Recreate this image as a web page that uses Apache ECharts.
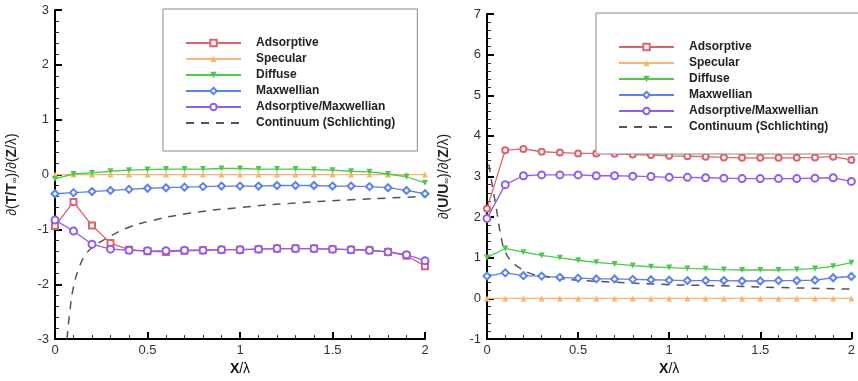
<!DOCTYPE html>
<html>
<head>
<meta charset="utf-8">
<script src="https://cdn.jsdelivr.net/npm/echarts@6/dist/echarts.min.js"></script>
<style>
  html, body { margin: 0; padding: 0; background: #fff; }
  #chart { width: 858px; height: 381px; }
</style>
</head>
<body>
<div id="chart"></div>
<script>
// x positions (X/lambda) shared by all sampled curves
const xPos = [0, 0.1, 0.2, 0.3, 0.4, 0.5, 0.6, 0.7, 0.8, 0.9, 1.0,
              1.1, 1.2, 1.3, 1.4, 1.5, 1.6, 1.7, 1.8, 1.9, 2.0]

const seriesNames = ['Adsorptive', 'Specular', 'Diffuse', 'Maxwellian',
                     'Adsorptive/Maxwellian', 'Continuum (Schlichting)']

// left panel: d(T/Tinf)/d(Z/lambda)
const tAdsorptive = [-0.94, -0.50, -0.93, -1.25, -1.37, -1.40, -1.41, -1.39, -1.38, -1.37, -1.37,
                     -1.36, -1.35, -1.35, -1.35, -1.36, -1.37, -1.38, -1.41, -1.48, -1.67]
const tSpecular   = [0, 0, 0, 0, 0, 0, 0, 0, 0, 0, 0, 0, 0, 0, 0, 0, 0, 0, 0, 0, 0]
const tDiffuse    = [-0.08, 0.01, 0.03, 0.06, 0.08, 0.09, 0.10, 0.10, 0.10, 0.11, 0.11,
                     0.10, 0.10, 0.10, 0.09, 0.08, 0.06, 0.05, 0.01, -0.04, -0.15]
const tMaxwellian = [-0.35, -0.33, -0.31, -0.29, -0.27, -0.25, -0.24, -0.23, -0.22, -0.21, -0.21,
                     -0.21, -0.20, -0.20, -0.20, -0.21, -0.21, -0.22, -0.24, -0.29, -0.35]
const tAdsMax     = [-0.83, -1.03, -1.27, -1.36, -1.38, -1.39, -1.39, -1.38, -1.38, -1.37, -1.37,
                     -1.36, -1.35, -1.35, -1.35, -1.36, -1.37, -1.38, -1.41, -1.46, -1.57]
const tContX = [0.065, 0.08, 0.1, 0.13, 0.16, 0.2, 0.26, 0.3, 0.4, 0.5, 0.7, 1.0, 1.3, 1.6, 2.0]
const tContY = [-3.0, -2.5, -2.05, -1.7, -1.49, -1.33, -1.2, -1.12, -0.96, -0.86, -0.72, -0.6, -0.52, -0.46, -0.40]

// right panel: d(U/Uinf)/d(Z/lambda)
const uAdsorptive = [2.21, 3.65, 3.68, 3.61, 3.59, 3.57, 3.57, 3.56, 3.54, 3.53, 3.51,
                     3.50, 3.49, 3.47, 3.46, 3.46, 3.46, 3.46, 3.47, 3.49, 3.41]
const uSpecular   = [0, 0, 0, 0, 0, 0, 0, 0, 0, 0, 0, 0, 0, 0, 0, 0, 0, 0, 0, 0, 0]
const uDiffuse    = [1.01, 1.23, 1.14, 1.06, 1.00, 0.94, 0.89, 0.85, 0.81, 0.78, 0.76,
                     0.74, 0.73, 0.71, 0.70, 0.70, 0.70, 0.71, 0.74, 0.79, 0.88]
const uMaxwellian = [0.55, 0.63, 0.56, 0.55, 0.52, 0.50, 0.48, 0.48, 0.47, 0.46, 0.45,
                     0.44, 0.44, 0.44, 0.43, 0.43, 0.44, 0.44, 0.45, 0.51, 0.54]
const uAdsMax     = [1.97, 2.80, 3.02, 3.04, 3.04, 3.04, 3.02, 3.02, 3.01, 3.00, 2.98,
                     2.98, 2.97, 2.96, 2.95, 2.95, 2.95, 2.95, 2.96, 2.97, 2.88]
const uContX = [0.01, 0.03, 0.05, 0.08, 0.1, 0.13, 0.16, 0.23, 0.3, 0.4, 0.5, 0.7, 1.0, 1.3, 1.6, 2.0]
const uContY = [3.3, 2.75, 2.25, 1.45, 1.15, 0.93, 0.81, 0.63, 0.55, 0.49, 0.45, 0.40, 0.34, 0.31, 0.27, 0.23]

const colors = {
  red: '#e0606c',
  orange: '#f6b672',
  green: '#4cc94c',
  blue: '#5c80ee',
  purple: '#8c5ff0',
  gray: '#555555'
}

const FONT = 'Liberation Sans, Arial, sans-serif'

const pair = (xs, ys) => xs.map((x, i) => [x, ys[i]])

function panelSeries(idx, vals, contX, contY, redSymbol) {
  const base = { type: 'line', xAxisIndex: idx, yAxisIndex: idx, z: 3 }
  return [
    { ...base, name: seriesNames[0], data: pair(xPos, vals[0]), symbol: redSymbol, symbolSize: 6,
      lineStyle: { color: colors.red, width: 1.3 }, itemStyle: { color: colors.red, borderWidth: 1.3 } },
    { ...base, name: seriesNames[1], data: pair(xPos, vals[1]), symbol: 'triangle', symbolSize: 6,
      lineStyle: { color: colors.orange, width: 1.3 }, itemStyle: { color: colors.orange } },
    { ...base, name: seriesNames[2], data: pair(xPos, vals[2]), symbol: 'triangle', symbolRotate: 180, symbolSize: 6,
      lineStyle: { color: colors.green, width: 1.3 }, itemStyle: { color: colors.green } },
    { ...base, name: seriesNames[3], data: pair(xPos, vals[3]), symbol: 'emptyDiamond', symbolSize: 7,
      lineStyle: { color: colors.blue, width: 1.3 }, itemStyle: { color: colors.blue, borderWidth: 1.2 } },
    { ...base, name: seriesNames[4], data: pair(xPos, vals[4]), symbol: 'emptyCircle', symbolSize: 7,
      lineStyle: { color: colors.purple, width: 1.3 }, itemStyle: { color: colors.purple, borderWidth: 1.4 } },
    { ...base, name: seriesNames[5], data: pair(contX, contY), symbol: 'none', smooth: true,
      lineStyle: { color: colors.gray, width: 1.5, type: [8, 7] }, itemStyle: { color: colors.gray } }
  ]
}

function xAxis(idx) {
  return {
    type: 'value', gridIndex: idx, min: 0, max: 2, interval: 0.5,
    name: '{b|X}{n|/λ}', nameLocation: 'middle', nameGap: 18,
    nameTextStyle: { rich: {
      b: { fontFamily: FONT, fontSize: 14, fontWeight: 'bold', color: '#111' },
      n: { fontFamily: FONT, fontSize: 14, color: '#111' } } },
    axisLine: { onZero: false, lineStyle: { color: '#000', width: 2 } },
    axisTick: { inside: true, length: 7, lineStyle: { color: '#000', width: 2 } },
    minorTick: { show: true, splitNumber: 5, length: 4, lineStyle: { color: '#333', width: 1 } },
    axisLabel: { fontFamily: FONT, fontSize: 13, color: '#333', margin: 5,
      formatter: v => String(v) },
    splitLine: { show: false }
  }
}

function yAxis(idx, min, max, label) {
  return {
    type: 'value', gridIndex: idx, min: min, max: max, interval: 1,
    name: label, nameLocation: 'middle', nameRotate: 90, nameGap: 36,
    nameTextStyle: { rich: {
      b: { fontFamily: FONT, fontSize: 14, fontWeight: 'bold', color: '#222' },
      n: { fontFamily: FONT, fontSize: 14, color: '#222' },
      s: { fontFamily: FONT, fontSize: 8, color: '#222', padding: [6, 0, 0, 0] } } },
    axisLine: { onZero: false, lineStyle: { color: '#000', width: 2 } },
    axisTick: { inside: true, length: 7, lineStyle: { color: '#000', width: 2 } },
    minorTick: { show: true, splitNumber: 5, length: 4, lineStyle: { color: '#333', width: 1 } },
    axisLabel: { fontFamily: FONT, fontSize: 13, color: '#333', margin: 6 },
    splitLine: { show: false }
  }
}

function legend(left, top, padding) {
  return {
    orient: 'vertical', left: left, top: top,
    data: seriesNames.map(n => n === seriesNames[5]
      ? { name: n, itemStyle: { opacity: 0 } }
      : n),
    padding: padding,
    borderColor: '#8a8a8a', borderWidth: 1,
    backgroundColor: '#fff',
    itemWidth: 55, itemHeight: 8, itemGap: 2,
    textStyle: { fontFamily: FONT, fontSize: 12, fontWeight: 'bold', color: '#222',
      lineHeight: 14, padding: [0, 0, 0, 10] }
  }
}

const chart = echarts.init(document.getElementById('chart'), null, { renderer: 'canvas' })

chart.setOption({
  animation: false,
  backgroundColor: '#fff',
  grid: [
    { left: 55, right: 433, top: 10, bottom: 33 },
    { left: 487, right: 1, top: 14, bottom: 32 }
  ],
  xAxis: [xAxis(0), xAxis(1)],
  yAxis: [
    yAxis(0, -3, 3, '{n|∂(}{b|T/T}{s|∞}{n|)/∂(}{b|Z}{n|/λ)}'),
    yAxis(1, -1, 7, '{n|∂(}{b|U/U}{s|∞}{n|)/∂(}{b|Z}{n|/λ)}')
  ],
  legend: [
    legend(163, 9, [27, 22, 21, 22]),
    legend(596, 13, [27, 32, 20, 22])
  ],
  series: [
    ...panelSeries(0, [tAdsorptive, tSpecular, tDiffuse, tMaxwellian, tAdsMax], tContX, tContY, 'emptyRect'),
    ...panelSeries(1, [uAdsorptive, uSpecular, uDiffuse, uMaxwellian, uAdsMax], uContX, uContY, 'emptyCircle')
  ]
})
</script>
</body>
</html>
